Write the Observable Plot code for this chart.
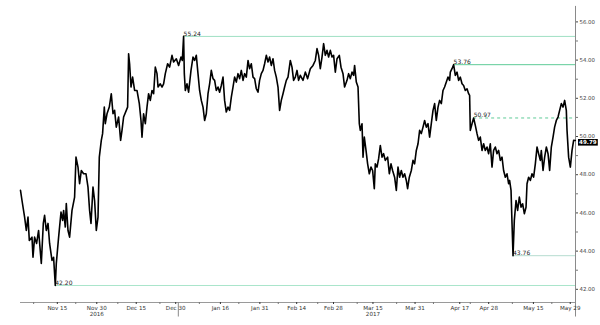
<!DOCTYPE html>
<html><head><meta charset="utf-8">
<script src="https://cdn.jsdelivr.net/npm/d3@7"></script>
<script src="https://cdn.jsdelivr.net/npm/@observablehq/plot@0.6"></script>
<style>html,body{margin:0;padding:0;background:#fff}svg{display:block}</style>
</head><body><div id="chart"></div>
<script>
// ---- data ----
const startDate = "2016-11-01";   // day offsets below are counted from this date
const endDate = "2017-05-31";
const dayOffsets = [
0,0.57,1.56,2.21,2.85,3.35,4.37,4.75,5.36,6.12,6.88,7.91,8.67,9.16,9.81,10.46,11.06,11.98,12.58,13.23,13.61,14.49,15.40,16.01,16.39,17.03,17.41,18.06,18.67,19.58,20.57,21.10,21.86,22.47,23.12,23.99,24.90,25.66,26.27,26.80,27.56,28.17,28.82,29.47,29.96,30.72,31.21,31.86,32.24,32.89,33.76,34.52,35.17,35.78,36.42,37.30,38.06,38.59,39.20,40.22,40.72,41.10,41.48,42.01,42.62,43.38,44.29,45.17,45.81,46.19,46.80,47.45,48.09,48.70,49.35,50.00,50.61,51.25,51.90,52.28,53.15,
53.80,54.41,55.05,55.93,56.69,57.60,58.21,59.24,60.11,61.02,61.52,62.01,62.28,62.66,63.30,63.91,64.82,65.58,66.19,66.84,67.48,68.09,68.74,69.39,70.00,70.64,71.29,71.90,72.54,73.19,73.80,74.44,75.09,75.70,76.34,76.99,77.60,78.24,78.89,79.50,80.15,80.79,81.40,82.05,82.69,83.30,83.95,84.60,85.20,85.85,86.50,87.10,87.75,88.40,89.01,89.65,90.30,90.90,91.55,92.20,92.81,93.45,94.10,94.71,95.35,96.00,96.61,97.25,97.90,98.51,99.15,99.80,100.41,101.06,101.70,102.58,103.22,103.83,104.48,105.12,105.73,106.38,
107.41,108.28,109.16,110.18,111.21,112.08,112.73,113.34,113.98,114.63,115.24,115.89,116.53,117.14,117.79,118.43,119.04,119.69,120.33,121.21,121.85,122.61,123.22,124.13,124.74,125.39,126.03,126.64,127.02,127.67,128.32,128.81,129.19,129.84,130.22,130.71,131.36,131.97,132.61,133.26,133.87,134.51,134.89,135.54,136.15,136.79,137.44,138.05,138.69,139.57,140.22,140.86,141.47,142.23,142.88,143.52,144.13,144.78,145.42,146.03,146.68,147.17,147.82,148.58,149.22,149.83,150.48,151.13,151.74,152.38,153.03,153.64,154.28,154.93,155.54,156.18,156.83,157.44,158.08,158.73,159.34,
159.99,160.63,161.24,161.89,162.53,163.14,163.41,164.05,164.66,165.31,165.96,166.57,167.21,167.86,168.47,169.11,169.76,170.37,170.75,171.01,171.66,172.27,172.91,173.56,174.17,174.81,175.46,176.07,176.71,177.36,177.97,178.61,179.26,179.87,180.52,181.16,181.77,182.42,183.06,183.67,184.32,184.96,185.57,185.95,186.49,186.87,187.25,187.74,188.39,189.00,189.65,190.29,190.90,191.55,192.19,192.57,193.18,193.83,194.47,195.08,195.73,196.37,196.98,197.63,198.01,198.66,199.27,199.91,200.56,201.17,201.81,202.46,203.06,203.71,204.36,204.97,205.61,206.26,206.87,207.51,207.78,208.39,209.04,209.68,210.29,210.94
];
const prices = [
47.18,46.65,45.78,45.08,45.78,44.56,44.73,43.68,44.73,44.40,45.08,43.35,45.45,45.87,45.08,45.45,44.40,43.51,43.68,42.20,43.35,44.73,46.04,45.61,46.13,45.26,46.49,45.08,44.73,46.13,46.83,48.92,48.40,47.53,48.22,48.05,48.05,47.35,46.13,45.45,47.35,46.65,45.08,45.78,48.92,49.80,50.15,51.54,50.67,51.19,51.54,52.24,51.19,51.37,50.49,51.02,49.80,50.32,51.02,51.37,51.54,54.33,53.81,52.59,53.11,52.41,52.41,51.72,50.84,49.97,51.19,50.67,51.54,52.24,51.89,52.41,52.24,53.63,53.29,52.59,52.76,
52.59,52.76,53.29,53.81,53.63,54.25,53.90,54.07,53.72,54.16,53.98,55.24,53.29,52.41,52.76,52.32,53.46,54.16,53.98,54.25,53.29,52.41,51.89,51.54,50.84,51.19,52.24,52.76,53.46,53.03,52.94,52.41,52.59,52.32,52.67,53.11,51.89,51.28,51.54,51.37,52.06,52.59,53.11,52.85,53.29,53.03,53.46,52.94,53.29,53.11,53.98,53.55,53.81,53.11,53.03,52.50,52.32,52.94,53.29,53.46,53.81,54.25,53.90,54.16,53.72,54.07,53.46,53.11,52.59,51.37,51.89,52.24,52.59,52.94,53.11,53.98,53.63,52.94,53.11,53.46,52.94,53.20,
52.94,53.37,53.03,53.55,53.72,53.98,54.60,54.25,53.55,54.16,54.86,54.25,54.51,54.16,54.51,54.16,54.25,53.37,54.07,54.25,53.63,53.29,52.59,52.94,53.29,53.03,53.37,53.20,53.72,52.85,52.59,50.67,50.32,50.67,48.92,49.97,49.27,48.57,48.05,48.40,48.22,47.27,48.57,48.40,48.84,49.53,48.92,49.10,48.75,48.92,48.05,48.57,48.22,47.87,47.18,48.40,47.87,48.22,47.87,48.05,47.70,47.27,47.87,48.22,48.75,48.57,49.27,49.62,50.32,50.15,50.49,50.84,50.49,50.67,49.97,50.67,51.37,51.72,50.84,51.54,51.89,
51.72,52.41,52.59,52.85,53.11,52.94,53.37,53.55,53.76,53.20,53.37,52.94,53.11,52.76,52.67,52.41,52.50,52.24,52.15,50.32,50.67,50.97,50.58,50.15,49.80,49.97,49.27,49.62,49.27,49.45,49.10,49.62,48.40,49.27,49.45,49.10,49.27,48.75,48.92,48.22,47.87,48.05,47.53,47.70,47.18,45.43,43.76,45.61,46.65,46.13,46.83,46.30,46.48,45.96,46.30,47.53,47.87,47.70,48.05,47.87,48.57,49.45,49.10,48.75,49.27,48.22,48.92,49.45,49.10,48.22,49.45,49.97,50.49,50.84,51.02,51.37,51.72,51.54,51.89,51.37,50.32,48.92,48.40,49.27,49.80,49.79
];
const levelValues = [55.24, 53.76, 50.97, 43.76, 42.20];
const levelLabels = ["55.24", "53.76", "50.97", "43.76", "42.20"];
const levelStartDays = [62.01, 164.66, 172.27, 187.25, 13.23];
const tickDates = ["2016-11-15","2016-11-30","2016-12-15","2016-12-30","2017-01-16","2017-01-31","2017-02-14","2017-02-28","2017-03-15","2017-03-31","2017-04-17","2017-04-28","2017-05-15","2017-05-29"];
const tickLabels = ["Nov 15","Nov 30\n2016","Dec 15","Dec 30","Jan 16","Jan 31","Feb 14","Feb 28","Mar 15\n2017","Mar 31","Apr 17","Apr 28","May 15","May 29"];
const minorTickDates = ["2016-11-06","2016-11-22","2016-12-08","2016-12-24","2017-01-08","2017-01-23","2017-02-07","2017-02-22","2017-03-09","2017-03-24","2017-04-07","2017-04-21","2017-05-07","2017-05-22"];
const yearBreaks = ["2016-12-31"];
const yTickValues = [42, 44, 46, 48, 50, 52, 54, 56];
const yMinorTickValues = [43, 45, 47, 49, 51, 53, 55];
const lastPrice = 49.79;
const lastPriceLabel = "49.79";

// ---- styles ----
const levelStyles = [
  {stroke: "#9fe0c3", dash: null},
  {stroke: "#5fcb98", dash: null},
  {stroke: "#5fcb98", dash: "3,3"},
  {stroke: "#b5dccf", dash: null},
  {stroke: "#a9e5cb", dash: null}
];
const FONT = "'DejaVu Sans', Verdana, sans-serif";

// ---- build ----
const t0 = Date.parse(startDate + "T00:00:00Z");
const toDate = d => new Date(t0 + d * 864e5);
const parse = s => new Date(s + "T00:00:00Z");
const series = prices.map((p, i) => ({date: toDate(dayOffsets[i]), price: p}));
const xEnd = parse(endDate);
const yDomain = [41.31, 57.12];
const yBelow = 40.55;  // axis extension below the frame
const yTop = 56.81;
const labelMap = new Map(tickDates.map((d, i) => [+parse(d), tickLabels[i]]));
const levels = levelValues.map((v, i) => ({value: v, label: levelLabels[i], start: toDate(levelStartDays[i]), ...levelStyles[i]}));

const levelMarks = levels.flatMap(l => [
  Plot.ruleY([l], {y: "value", x1: "start", x2: () => xEnd, stroke: l.stroke, strokeWidth: 1, strokeDasharray: l.dash ?? undefined}),
  Plot.text([l], {x: "start", y: "value", text: "label", textAnchor: "start", lineAnchor: "bottom", dy: -0.5, dx: 0, fontSize: 6, fill: "#222"})
]);

const chart = Plot.plot({
  width: 600, height: 325,
  marginLeft: 20, marginRight: 25, marginTop: 0, marginBottom: 23,
  style: {fontFamily: FONT, background: "#fff"},
  x: {type: "utc", domain: [parse(startDate), xEnd]},
  y: {domain: yDomain},
  marks: [
    ...levelMarks,
    Plot.ruleY([yDomain[0]], {stroke: "#9a9a9a", strokeWidth: 1}),
    Plot.ruleX([xEnd], {y1: yTop, y2: yBelow, stroke: "#8a8a8a", strokeWidth: 1}),
    Plot.ruleX(yearBreaks.map(parse), {y1: yDomain[0], y2: yBelow, stroke: "#8a8a8a", strokeWidth: 1}),
    Plot.axisX(tickDates.map(parse), {tickSize: 2, tickPadding: 1, tickFormat: d => labelMap.get(+d), fontSize: 5.6, color: "#333", lineHeight: 1.05}),
    Plot.axisX(minorTickDates.map(parse), {tickSize: 2, tickFormat: () => "", color: "#777"}),
    Plot.axisY(yTickValues, {anchor: "right", tickSize: 2, tickPadding: 2, tickFormat: d => d.toFixed(2), fontSize: 5.4, color: "#444"}),
    Plot.axisY(yMinorTickValues, {anchor: "right", tickSize: 2, tickFormat: () => "", color: "#777"}),
    Plot.line(series, {x: "date", y: "price", stroke: "#000", strokeWidth: 1.6, strokeLinejoin: "round"}),
    Plot.text([{x: xEnd, y: lastPrice, label: lastPriceLabel}], {x: "x", y: "y", text: "label", textAnchor: "start", dx: 3.5, dy: 2, fontSize: 5.6, fill: "#fff", fontWeight: "bold"})
  ]
});
document.getElementById("chart").append(chart);

// black box behind the last-price label (same transform as the text)
chart.querySelectorAll("text").forEach(t => {
  const fill = t.getAttribute("fill") || (t.parentNode && t.parentNode.getAttribute("fill"));
  if (t.textContent === lastPriceLabel && fill === "#fff") {
    const b = t.getBBox();
    const r = document.createElementNS("http://www.w3.org/2000/svg", "rect");
    r.setAttribute("x", b.x - 1); r.setAttribute("y", b.y - 0.3);
    r.setAttribute("width", b.width + 2); r.setAttribute("height", b.height + 0.6);
    r.setAttribute("fill", "#000");
    const tr = t.getAttribute("transform");
    if (tr) r.setAttribute("transform", tr);
    t.parentNode.insertBefore(r, t);
  }
});
</script></body></html>
